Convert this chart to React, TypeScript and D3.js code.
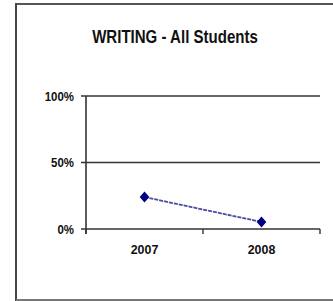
import React from 'react'
import * as d3 from 'd3'

const years = ['2007', '2008']
const values = [24, 5.3]
const yTicks = [0, 50, 100]

const App = () => {
  const width = 333
  const height = 301
  const margin = { top: 96, right: 13, bottom: 72, left: 86 }

  const x = d3.scaleBand().domain(years).range([margin.left, width - margin.right])
  const y = d3.scaleLinear().domain([0, 100]).range([height - margin.bottom, margin.top])

  const pts = years.map((yr, i) => [x(yr)! + x.bandwidth() / 2, y(values[i])] as [number, number])
  const line = d3.line()(pts)
  const font = '"Liberation Sans", Arial, sans-serif'

  // narrow-ish bold text, like Arial Narrow
  const label = (tx: number, ty: number, s: string, size: number, anchor: string, sx = 0.88) => (
    <text transform={`translate(${tx},${ty}) scale(${sx},1)`} textAnchor={anchor} fontFamily={font}
      fontWeight="bold" fontSize={size} fill="#111">{s}</text>
  )

  return (
    <svg width={width} height={height} style={{ position: 'absolute', left: 0, top: 0 }}>
      <rect x={0} y={0} width={width} height={height} fill="#fff" />
      {/* frame */}
      <line x1={16} x2={width} y1={4} y2={4} stroke="#555" strokeWidth={2} />
      <line x1={16} x2={16} y1={3} y2={301} stroke="#444" strokeWidth={2} />
      <line x1={16} x2={width} y1={300} y2={300} stroke="#777" strokeWidth={2} />

      {label(175, 43, 'WRITING - All Students', 17.5, 'middle', 0.86)}

      {yTicks.map(t => (
        <g key={t}>
          <line x1={margin.left - 5} x2={width - margin.right} y1={y(t)} y2={y(t)} stroke="#333" strokeWidth={1.6} />
          {label(margin.left - 12, y(t) + 4.5, `${t}%`, 13, 'end')}
        </g>
      ))}

      <line x1={margin.left} x2={margin.left} y1={y(100)} y2={y(0) + 5} stroke="#333" strokeWidth={1.6} />
      {[margin.left, ...years.map(yr => x(yr)! + x.bandwidth())].map((tx, i) => (
        <line key={i} x1={tx} x2={tx} y1={y(0)} y2={y(0) + 5} stroke="#333" strokeWidth={1.4} />
      ))}
      {years.map(yr => (
        <g key={yr}>{label(x(yr)! + x.bandwidth() / 2, y(0) + 25, yr, 13.5, 'middle', 0.92)}</g>
      ))}

      <path d={line!} fill="none" stroke="#4a4aa0" strokeWidth={1.8} strokeDasharray="4,1" />
      {pts.map((p, i) => (
        <path key={i} d="M0,-5.5L4.8,0L0,5.5L-4.8,0Z" transform={`translate(${p[0]},${p[1]})`} fill="#000080" />
      ))}
    </svg>
  )
}

export default App
